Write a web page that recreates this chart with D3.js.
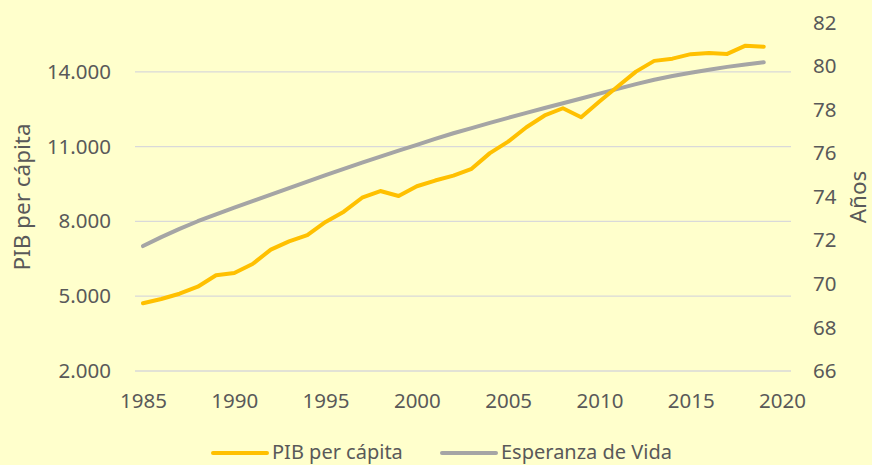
<!DOCTYPE html>
<html>
<head>
<meta charset="utf-8">
<script src="https://cdn.jsdelivr.net/npm/d3@7"></script>
<style>
  html, body { margin: 0; padding: 0; background: #FFFFCC; }
  svg { display: block; font-family: "Noto Sans", "Open Sans", sans-serif; }
  .tick text { fill: #595959; }
</style>
</head>
<body>
<svg id="chart" width="872" height="465"></svg>
<script>
/* PIB per cápita (eje izq.) y Esperanza de Vida (eje der.), 1985–2019 */
var years = d3.range(1985, 2020);
var pib = [4720, 4890, 5100, 5380, 5840, 5930, 6290, 6870, 7200, 7450,
           7980, 8390, 8950, 9220, 9020, 9410, 9640, 9840, 10110, 10740,
           11200, 11780, 12250, 12540, 12180, 12810, 13410, 14010, 14440, 14530,
           14710, 14760, 14720, 15050, 15010];
var vida = [71.74, 72.15, 72.53, 72.88, 73.20, 73.50, 73.80, 74.10, 74.40, 74.70,
            75.00, 75.29, 75.57, 75.85, 76.12, 76.39, 76.66, 76.92, 77.16, 77.40,
            77.63, 77.86, 78.08, 78.30, 78.52, 78.74, 78.96, 79.18, 79.38, 79.55,
            79.70, 79.84, 79.97, 80.08, 80.18];
var xTicks = [1985, 1990, 1995, 2000, 2005, 2010, 2015, 2020];
var leftTicks = [2000, 5000, 8000, 11000, 14000];
var rightTicks = [66, 68, 70, 72, 74, 76, 78, 80, 82];
var seriesNames = ['PIB per cápita', 'Esperanza de Vida'];
var seriesColors = ['#FFC000', '#A5A5A5'];

var svg = d3.select('#chart');
var textCol = '#595959';
var plotL = 135, plotR = 791;

var x = d3.scaleLinear().domain([1985, 2020]).range([143, 782]);
var yL = d3.scaleLinear().domain([2000, 16000]).range([371, 22]);
var yR = d3.scaleLinear().domain([66, 82]).range([371, 22.7]);

var fmtMiles = function (v) { return d3.format(',')(v).replace(/,/g, '.'); };

/* gridlines (left axis) */
svg.append('g').selectAll('line').data(leftTicks).enter().append('line')
  .attr('x1', plotL).attr('x2', plotR)
  .attr('y1', function (d) { return yL(d); }).attr('y2', function (d) { return yL(d); })
  .attr('stroke', '#D9D9D9').attr('stroke-width', 1.3);

/* axes: labels only */
var gL = svg.append('g').attr('transform', 'translate(119,0)')
  .call(d3.axisLeft(yL).tickValues(leftTicks).tickFormat(fmtMiles).tickSize(0).tickPadding(8));
var gR = svg.append('g').attr('transform', 'translate(805,0)')
  .call(d3.axisRight(yR).tickValues(rightTicks).tickFormat(d3.format('d')).tickSize(0).tickPadding(8));
var gX = svg.append('g').attr('transform', 'translate(0,393)')
  .call(d3.axisBottom(x).tickValues(xTicks).tickFormat(d3.format('d')).tickSize(0).tickPadding(0));
[gL, gR, gX].forEach(function (g) {
  g.select('.domain').remove();
  g.selectAll('text').style('font-size', '20.5px').style('font-family', '"Noto Sans", sans-serif')
    .attr('fill', textCol);
});

/* axis titles */
svg.append('text')
  .attr('transform', 'translate(30,197) rotate(-90)')
  .attr('text-anchor', 'middle')
  .style('font-size', '22.5px').attr('fill', textCol)
  .text('PIB per cápita');
svg.append('text')
  .attr('transform', 'translate(866,197) rotate(-90)')
  .attr('text-anchor', 'middle')
  .style('font-size', '22.5px').attr('fill', textCol)
  .text('Años');

/* lines */
var linePib = d3.line()
  .x(function (d, i) { return x(years[i]); })
  .y(function (d) { return yL(d); });
var lineVida = d3.line()
  .x(function (d, i) { return x(years[i]); })
  .y(function (d) { return yR(d); });

svg.append('path').datum(vida)
  .attr('d', lineVida).attr('fill', 'none')
  .attr('stroke', seriesColors[1]).attr('stroke-width', 4)
  .attr('stroke-linejoin', 'round').attr('stroke-linecap', 'round');
svg.append('path').datum(pib)
  .attr('d', linePib).attr('fill', 'none')
  .attr('stroke', seriesColors[0]).attr('stroke-width', 4)
  .attr('stroke-linejoin', 'round').attr('stroke-linecap', 'round');

/* legend */
var legX = [213, 442];
var leg = svg.append('g');
seriesNames.forEach(function (name, i) {
  leg.append('line')
    .attr('x1', legX[i]).attr('x2', legX[i] + 54)
    .attr('y1', 453).attr('y2', 453)
    .attr('stroke', seriesColors[i]).attr('stroke-width', 4).attr('stroke-linecap', 'round');
  leg.append('text')
    .attr('x', legX[i] + 59).attr('y', 459)
    .style('font-size', '20px').attr('fill', textCol)
    .text(name);
});
</script>
</body>
</html>
